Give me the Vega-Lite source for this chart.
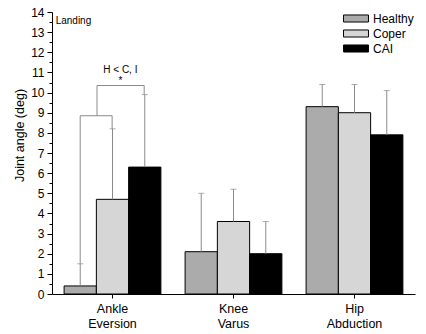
{
  "$schema": "https://vega.github.io/schema/vega-lite/v6.json",
  "width": 363,
  "height": 282,
  "autosize": "none",
  "padding": {"left": 52, "top": 12, "right": 11, "bottom": 40},
  "background": "white",
  "config": {
    "view": {"stroke": null},
    "font": "Liberation Sans",
    "axis": {"domainColor": "black", "tickColor": "black", "labelColor": "black", "titleColor": "black", "grid": false, "labelFont": "Liberation Sans", "titleFont": "Liberation Sans"}
  },
  "datasets": {
    "bars": [
      {"joint": "Ankle Eversion", "group": "Healthy", "value": 0.4, "err": 1.5},
      {"joint": "Ankle Eversion", "group": "Coper", "value": 4.7, "err": 8.2},
      {"joint": "Ankle Eversion", "group": "CAI", "value": 6.3, "err": 9.9},
      {"joint": "Knee Varus", "group": "Healthy", "value": 2.1, "err": 5.0},
      {"joint": "Knee Varus", "group": "Coper", "value": 3.6, "err": 5.2},
      {"joint": "Knee Varus", "group": "CAI", "value": 2.0, "err": 3.6},
      {"joint": "Hip Abduction", "group": "Healthy", "value": 9.3, "err": 10.4},
      {"joint": "Hip Abduction", "group": "Coper", "value": 9.0, "err": 10.4},
      {"joint": "Hip Abduction", "group": "CAI", "value": 7.9, "err": 10.1}
    ],
    "brackets": [
      {"x": 0.233, "x2": 0.233, "y": 1.5, "y2": 8.85},
      {"x": 0.233, "x2": 0.497, "y": 8.85, "y2": 8.85},
      {"x": 0.497, "x2": 0.497, "y": 8.2, "y2": 8.85},
      {"x": 0.372, "x2": 0.372, "y": 8.85, "y2": 10.35},
      {"x": 0.372, "x2": 0.762, "y": 10.35, "y2": 10.35},
      {"x": 0.762, "x2": 0.762, "y": 9.9, "y2": 10.35}
    ],
    "notes": [
      {"x": 0.565, "y": 11.1, "label": "H < C, I"},
      {"x": 0.565, "y": 10.55, "label": "*"}
    ],
    "landing": [
      {"x": 0.03, "y": 13.55, "label": "Landing"}
    ]
  },
  "layer": [
    {
      "data": {"name": "bars"},
      "encoding": {
        "x": {
          "field": "joint", "type": "nominal", "sort": ["Ankle Eversion", "Knee Varus", "Hip Abduction"],
          "scale": {"paddingInner": 0.2, "paddingOuter": 0.1},
          "axis": {"title": null, "labelAngle": 0, "labelExpr": "split(datum.label, ' ')", "labelFontSize": 12.5, "labelLineHeight": 15, "tickSize": 4, "labelPadding": 4, "domainWidth": 1}
        },
        "xOffset": {"field": "group", "type": "nominal", "sort": ["Healthy", "Coper", "CAI"], "scale": {"paddingInner": 0, "paddingOuter": 0}}
      },
      "layer": [
        {
          "mark": {"type": "bar", "stroke": "black", "strokeWidth": 1, "fillOpacity": 1},
          "encoding": {
            "y": {
              "field": "value", "type": "quantitative",
              "scale": {"domain": [0, 14], "nice": false, "zero": true},
              "axis": {"title": "Joint angle (deg)", "titleFontSize": 12.5, "titleFontWeight": "normal", "titleX": -33, "titleY": 123, "titleAlign": "center", "titleBaseline": "middle", "titleAngle": -90, "values": [0,1,2,3,4,5,6,7,8,9,10,11,12,13,14], "labelOverlap": false, "labelFontSize": 12, "tickSize": 5, "labelPadding": 3}
            },
            "color": {
              "field": "group", "type": "nominal",
              "sort": ["Healthy", "Coper", "CAI"],
              "scale": {"domain": ["Healthy", "Coper", "CAI"], "range": ["#ababab", "#d6d6d6", "#000000"]},
              "legend": {
                "title": null, "orient": "none", "legendX": 295.5, "legendY": -2,
                "symbolType": "M-1.56,-0.44L1.56,-0.44L1.56,0.44L-1.56,0.44Z",
                "symbolSize": 256, "labelOffset": 8.5, "labelFontSize": 12, "labelColor": "black",
                "rowPadding": 0, "padding": 0, "symbolStrokeColor": "black", "symbolStrokeWidth": 1, "symbolOpacity": 1
              }
            }
          }
        },
        {
          "mark": {"type": "rule", "color": "#8a8a8a", "strokeWidth": 1},
          "encoding": {
            "y": {"field": "value", "type": "quantitative",
              "scale": {"domain": [0, 14], "nice": false, "zero": true},
              "axis": {"title": "Joint angle (deg)", "titleFontSize": 12.5, "titleFontWeight": "normal", "titleX": -33, "titleY": 123, "titleAlign": "center", "titleBaseline": "middle", "titleAngle": -90, "values": [0,1,2,3,4,5,6,7,8,9,10,11,12,13,14], "labelOverlap": false, "labelFontSize": 12, "tickSize": 5, "labelPadding": 3}},
            "y2": {"field": "err"}
          }
        },
        {
          "mark": {"type": "tick", "color": "#8a8a8a", "thickness": 1, "size": 6, "orient": "horizontal"},
          "encoding": {
            "y": {"field": "err", "type": "quantitative",
              "scale": {"domain": [0, 14], "nice": false, "zero": true},
              "axis": {"title": "Joint angle (deg)", "titleFontSize": 12.5, "titleFontWeight": "normal", "titleX": -33, "titleY": 123, "titleAlign": "center", "titleBaseline": "middle", "titleAngle": -90, "values": [0,1,2,3,4,5,6,7,8,9,10,11,12,13,14], "labelOverlap": false, "labelFontSize": 12, "tickSize": 5, "labelPadding": 3}}
          }
        }
      ]
    },
    {
      "data": {"name": "brackets"},
      "mark": {"type": "rule", "color": "#8a8a8a", "strokeWidth": 1},
      "encoding": {
        "x": {"field": "x", "type": "quantitative", "scale": {"domain": [0, 3], "nice": false, "zero": false}, "axis": null},
        "x2": {"field": "x2"},
        "y": {"field": "y", "type": "quantitative", "scale": {"domain": [0, 14], "nice": false},
              "axis": {"orient": "left", "values": [0.5,1.5,2.5,3.5,4.5,5.5,6.5,7.5,8.5,9.5,10.5,11.5,12.5,13.5], "labels": false, "tickSize": 3, "domain": false, "title": null}},
        "y2": {"field": "y2"}
      }
    },
    {
      "data": {"name": "notes"},
      "mark": {"type": "text", "fontSize": 10, "color": "black", "align": "center", "baseline": "middle"},
      "encoding": {
        "x": {"field": "x", "type": "quantitative", "scale": {"domain": [0, 3], "nice": false, "zero": false}, "axis": null},
        "y": {"field": "y", "type": "quantitative", "axis": null},
        "text": {"field": "label"}
      }
    },
    {
      "data": {"name": "landing"},
      "mark": {"type": "text", "fontSize": 10, "color": "black", "align": "left", "baseline": "middle"},
      "encoding": {
        "x": {"field": "x", "type": "quantitative", "scale": {"domain": [0, 3], "nice": false, "zero": false}, "axis": null},
        "y": {"field": "y", "type": "quantitative", "axis": null},
        "text": {"field": "label"}
      }
    }
  ],
  "resolve": {"scale": {"x": "independent"}, "axis": {"y": "independent"}}
}
